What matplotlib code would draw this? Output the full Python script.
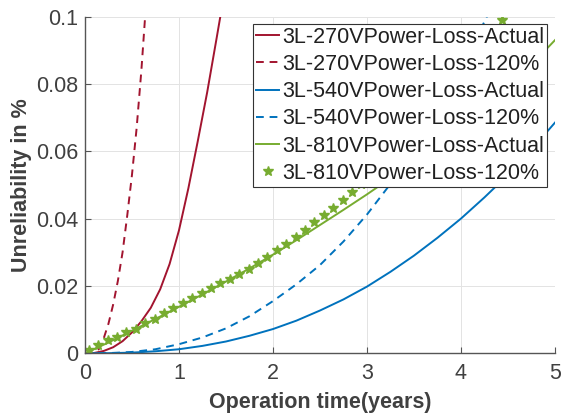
import numpy as np
import matplotlib
matplotlib.use("Agg")
import matplotlib.pyplot as plt

# values (years, unreliability in %)
t_270_act = [0, 0.1, 0.2, 0.3, 0.4, 0.5, 0.6, 0.7, 0.8, 0.9, 1.0, 1.1, 1.2, 1.3, 1.4, 1.44]
u_270_act = [0, 0.0001, 0.0007, 0.0018, 0.0036, 0.0062, 0.0095, 0.0135, 0.0190, 0.0265,
             0.0365, 0.0490, 0.0630, 0.0775, 0.0935, 0.1000]

t_270_120 = [0, 0.05, 0.1, 0.15, 0.2, 0.25, 0.3, 0.35, 0.4, 0.45, 0.5, 0.55, 0.6, 0.64]
u_270_120 = [0, 0.00005, 0.0004, 0.0013, 0.0045, 0.0088, 0.0145, 0.0215, 0.0300, 0.0410,
             0.0530, 0.0670, 0.0840, 0.1000]

t_540_act = [0, 0.25, 0.5, 0.75, 1.0, 1.25, 1.5, 1.75, 2.0, 2.25, 2.5, 2.75, 3.0,
             3.25, 3.5, 3.75, 4.0, 4.25, 4.5, 4.75, 5.0]
u_540_act = [0, 0.00003, 0.0002, 0.0006, 0.0012, 0.0022, 0.0035, 0.0052, 0.0072, 0.0097,
             0.0127, 0.0160, 0.0198, 0.0242, 0.0290, 0.0343, 0.0400, 0.0463, 0.0530,
             0.0605, 0.0685]

t_540_120 = [0, 0.25, 0.5, 0.75, 1.0, 1.25, 1.5, 1.75, 2.0, 2.25, 2.5, 2.75, 3.0,
             3.25, 3.5, 3.75, 4.0, 4.25, 4.3]
u_540_120 = [0, 0.00005, 0.0004, 0.0012, 0.0027, 0.0047, 0.0074, 0.0110, 0.0155, 0.0205,
             0.0262, 0.0332, 0.0412, 0.0503, 0.0605, 0.0718, 0.0845, 0.0985, 0.1015]

t_810_act = [0, 0.25, 0.5, 0.75, 1.0, 1.25, 1.5, 1.75, 2.0, 2.25, 2.5, 2.75, 3.0,
             3.25, 3.5, 3.75, 4.0, 4.25, 4.5, 4.75, 5.0]
u_810_act = [0, 0.0032, 0.0067, 0.0102, 0.0138, 0.0175, 0.0213, 0.0252, 0.0293, 0.0336,
             0.0381, 0.0426, 0.0472, 0.0520, 0.0570, 0.0621, 0.0675, 0.0731, 0.0790,
             0.0857, 0.0930]

t_810_120 = [0.04, 0.14, 0.24, 0.34, 0.44, 0.54, 0.64, 0.74, 0.84, 0.94,
             1.04, 1.14, 1.24, 1.34, 1.44, 1.54, 1.64, 1.74, 1.84, 1.94,
             2.04, 2.14, 2.24, 2.34, 2.44, 2.54, 2.64, 2.74, 2.84, 2.94,
             3.04, 3.14, 3.24, 3.34, 3.44, 3.54, 3.64, 3.74, 3.84, 3.94,
             4.04, 4.14, 4.24, 4.34, 4.44]
u_810_120 = [0.0010, 0.0025, 0.0038, 0.0049, 0.0063, 0.0072, 0.0089, 0.0102, 0.0119, 0.0134,
             0.0149, 0.0164, 0.0180, 0.0194, 0.0208, 0.0222, 0.0236, 0.0251, 0.0268, 0.0286,
             0.0306, 0.0326, 0.0346, 0.0367, 0.0389, 0.0411, 0.0433, 0.0456, 0.0480, 0.0504,
             0.0529, 0.0554, 0.0580, 0.0607, 0.0634, 0.0662, 0.0690, 0.0719, 0.0749, 0.0780,
             0.0811, 0.0843, 0.0876, 0.0910, 0.0990]

labels = ["3L-270VPower-Loss-Actual", "3L-270VPower-Loss-120%",
          "3L-540VPower-Loss-Actual", "3L-540VPower-Loss-120%",
          "3L-810VPower-Loss-Actual", "3L-810VPower-Loss-120%"]
xticks = [0, 1, 2, 3, 4, 5]
yticks = [0, 0.02, 0.04, 0.06, 0.08, 0.1]
ytick_labels = ["0", "0.02", "0.04", "0.06", "0.08", "0.1"]

red = "#A2142F"
blue = "#0072BD"
green = "#77AC30"
txt = "#404040"

plt.rcParams["font.family"] = ["Liberation Sans", "DejaVu Sans"]

fig = plt.figure(figsize=(5.68, 4.15), dpi=100)
ax = fig.add_axes([0.1496, 0.1487, 0.977 - 0.1496, 0.960 - 0.1487])

lw = 1.4
dash = (0, (4, 3))
ax.plot(t_270_act, u_270_act, color=red, lw=lw, label=labels[0])
ax.plot(t_270_120, u_270_120, color=red, lw=lw, ls=dash, label=labels[1])
ax.plot(t_540_act, u_540_act, color=blue, lw=lw, label=labels[2])
ax.plot(t_540_120, u_540_120, color=blue, lw=lw, ls=dash, label=labels[3])
ax.plot(t_810_act, u_810_act, color=green, lw=lw, label=labels[4])
ax.plot(t_810_120, u_810_120, color=green, ls="none", marker="*", ms=7.5,
        mec=green, mfc=green, label=labels[5])

ax.set_xlim(0, 5)
ax.set_ylim(0, 0.1)
ax.set_xticks(xticks)
ax.set_yticks(yticks)
ax.set_yticklabels(ytick_labels)
ax.grid(True, color="#e3e3e3", lw=0.7)
ax.set_axisbelow(True)

for s in ["top", "right"]:
    ax.spines[s].set_visible(False)
for s in ["left", "bottom"]:
    ax.spines[s].set_color("#555555")
    ax.spines[s].set_linewidth(1.0)
ax.tick_params(direction="in", length=4, width=0.8, color="#555555",
               labelsize=15.5, labelcolor=txt)
ax.tick_params(axis="x", pad=7)
ax.tick_params(axis="y", pad=5)

ax.set_xlabel("Operation time(years)", fontsize=15.5, fontweight="bold", color=txt, labelpad=6)
ax.set_ylabel("Unreliability in %", fontsize=15.5, fontweight="bold", color=txt, labelpad=3)

leg = ax.legend(loc="upper right", fontsize=15.5, frameon=True, fancybox=False,
                framealpha=1, edgecolor="#333333", handlelength=1.1, handletextpad=0.15,
                borderpad=0.12, labelspacing=0.29, borderaxespad=0.35)
leg.get_frame().set_linewidth(0.8)
for t in leg.get_texts():
    t.set_color("#202020")

fig.savefig("out.png", dpi=100)
